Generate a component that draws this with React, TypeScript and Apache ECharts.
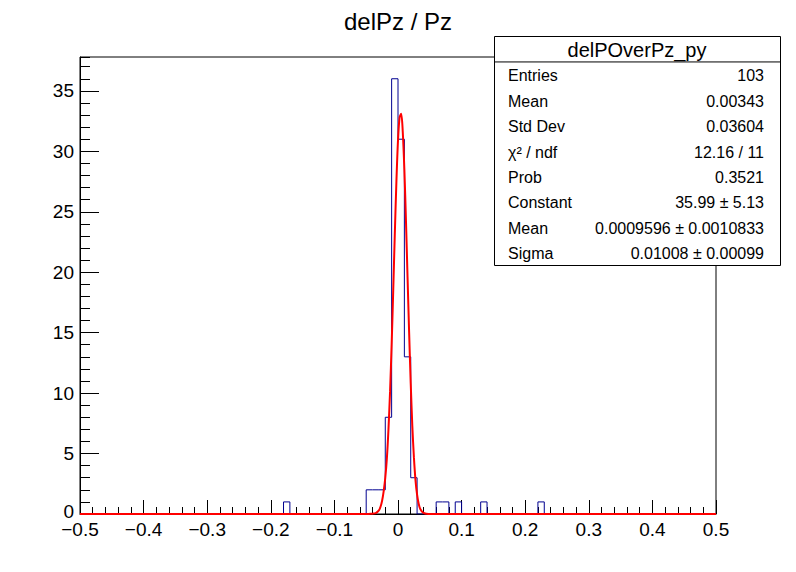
import React, { useEffect, useRef } from "react";
import * as echarts from "echarts";

const TITLE = "delPz / Pz";
const STATS_TITLE = "delPOverPz_py";
const X_MIN = -0.5;
const X_MAX = 0.5;
const BIN_WIDTH = 0.01;
const Y_MAX = 37.8;

// bin contents, 100 bins of width 0.01 from -0.5 to 0.5
const counts = [
  0, 0, 0, 0, 0, 0, 0, 0, 0, 0, // -0.50 .. -0.41
  0, 0, 0, 0, 0, 0, 0, 0, 0, 0, // -0.40 .. -0.31
  0, 0, 0, 0, 0, 0, 0, 0, 0, 0, // -0.30 .. -0.21
  0, 0, 1, 0, 0, 0, 0, 0, 0, 0, // -0.20 .. -0.11
  0, 0, 0, 0, 0, 2, 2, 2, 8, 36, // -0.10 .. -0.01
  31, 13, 3, 0, 0, 0, 1, 1, 0, 1, // 0.00 .. 0.09
  0, 0, 0, 1, 0, 0, 0, 0, 0, 0, // 0.10 .. 0.19
  0, 0, 1, 0, 0, 0, 0, 0, 0, 0, // 0.20 .. 0.29
  0, 0, 0, 0, 0, 0, 0, 0, 0, 0, // 0.30 .. 0.39
  0, 0, 0, 0, 0, 0, 0, 0, 0, 0, // 0.40 .. 0.49
];

// gaussian fit curve
const fitX = [
  -0.5, -0.05, -0.045, -0.04, -0.035, -0.03, -0.0275, -0.025, -0.0225, -0.02, -0.0175, -0.015, -0.0125,
  -0.01, -0.0075, -0.005, -0.0025, 0, 0.0025, 0.005, 0.0075, 0.01, 0.0125, 0.015, 0.0175, 0.02,
  0.0225, 0.025, 0.0275, 0.03, 0.0325, 0.035, 0.04, 0.045, 0.05, 0.5,
];
const fitY = [
  0, 0, 0.01, 0.03, 0.08, 0.3, 0.6, 1.1, 1.9, 3.0, 4.6, 7.0, 10.1,
  14.0, 18.5, 23.2, 27.5, 30.9, 32.8, 33.1, 31.6, 28.5, 24.3, 19.6, 15.0, 10.8,
  7.3, 4.7, 2.8, 1.6, 0.85, 0.42, 0.09, 0.02, 0, 0,
];

const statLabels = ["Entries", "Mean", "Std Dev", "\u03C7\u00B2 / ndf", "Prob", "Constant", "Mean", "Sigma"];
const statValues = ["103", "0.00343", "0.03604", "12.16 / 11", "0.3521", "35.99 \u00B1 5.13", "0.0009596 \u00B1 0.0010833", "0.01008 \u00B1 0.00099"];

const FONT = '"Liberation Sans", Arial, Helvetica, sans-serif';

export default function App() {
  const ref = useRef<HTMLDivElement>(null);
  useEffect(() => {
    if (!ref.current) return;
    const chart = echarts.init(ref.current, null, { renderer: "svg" });

    const histData: number[][] = counts.map((c, i) => [X_MIN + i * BIN_WIDTH, c]);
    histData.push([X_MAX, counts[counts.length - 1]]);
    const fitData = fitX.map((x, i) => [x, fitY[i]]);

    const boxL = 494, boxT = 36, boxW = 286, boxH = 229;
    const rowH = boxH / (statLabels.length + 1);
    const graphics: any[] = [
      {
        type: "text",
        x: 398,
        y: 21,
        z: 100,
        style: { text: TITLE, font: `24px ${FONT}`, fill: "#000", align: "center", verticalAlign: "middle", textAlign: "center", textVerticalAlign: "middle" },
      },
      {
        type: "rect",
        z: 100,
        shape: { x: boxL + 0.5, y: boxT + 0.5, width: boxW, height: boxH },
        style: { fill: "#fff", stroke: "#000", lineWidth: 1 },
      },
      {
        type: "line",
        z: 101,
        shape: { x1: boxL + 0.5, y1: boxT + rowH + 0.5, x2: boxL + boxW + 0.5, y2: boxT + rowH + 0.5 },
        style: { stroke: "#000", lineWidth: 1 },
      },
      {
        type: "text",
        x: boxL + boxW / 2,
        y: boxT + rowH / 2 + 1,
        z: 102,
        style: { text: STATS_TITLE, font: `20px ${FONT}`, fill: "#000", align: "center", verticalAlign: "middle", textAlign: "center", textVerticalAlign: "middle" },
      },
    ];
    statLabels.forEach((lab, i) => {
      const cy = boxT + rowH * (i + 1.5) + 1.5;
      graphics.push({
        type: "text",
        x: boxL + 14,
        y: cy,
        z: 102,
        style: { text: lab, font: `16px ${FONT}`, fill: "#000", align: "left", verticalAlign: "middle", textAlign: "left", textVerticalAlign: "middle" },
      });
      graphics.push({
        type: "text",
        x: boxL + boxW - 16,
        y: cy,
        z: 102,
        style: { text: statValues[i], font: `16px ${FONT}`, fill: "#000", align: "right", verticalAlign: "middle", textAlign: "right", textVerticalAlign: "middle" },
      });
    });

    const fmtX = (v: number) => {
      const r = Math.round(v * 10) / 10;
      if (r === 0) return "0";
      return r.toFixed(1).replace("-", "\u2212");
    };
    const fmtY = (v: number) => (v === 0 ? "{z|0}" : String(v));

    chart.setOption({
      animation: false,
      backgroundColor: "#fff",
      grid: { left: 80, right: 80, top: 57, bottom: 58, show: true, borderColor: "#000", borderWidth: 1, backgroundColor: "transparent" },
      xAxis: {
        type: "value",
        min: X_MIN,
        max: X_MAX,
        interval: 0.1,
        axisLine: { show: true, onZero: false, lineStyle: { color: "#000", width: 1 } },
        axisTick: { show: true, inside: true, length: 14, lineStyle: { color: "#000", width: 1 } },
        minorTick: { show: true, splitNumber: 5, length: 7, lineStyle: { color: "#000", width: 1 } },
        splitLine: { show: false },
        axisLabel: { color: "#000", fontSize: 19, fontFamily: FONT, margin: 6, formatter: fmtX, showMinLabel: true, showMaxLabel: true },
      },
      yAxis: [
        {
          type: "value",
          min: 0,
          max: Y_MAX,
          interval: 5,
          position: "left",
          axisLine: { show: true, onZero: false, lineStyle: { color: "#000", width: 1 } },
          axisTick: { show: true, inside: true, length: 19, lineStyle: { color: "#000", width: 1 } },
          splitLine: { show: false },
          axisLabel: {
            color: "#000",
            fontSize: 19,
            fontFamily: FONT,
            margin: 6,
            showMaxLabel: false,
            formatter: fmtY,
            rich: { z: { fontSize: 19, fontFamily: FONT, color: "#000", padding: [0, 0, 6, 0] } },
          },
        },
        {
          type: "value",
          min: 0,
          max: Y_MAX,
          interval: 1,
          position: "left",
          offset: 0,
          axisLine: { show: false, onZero: false },
          axisTick: { show: true, inside: true, length: 10, lineStyle: { color: "#000", width: 1 } },
          splitLine: { show: false },
          axisLabel: { show: false },
        },
      ],
      series: [
        {
          type: "line",
          name: "hist",
          data: histData,
          step: "end",
          showSymbol: false,
          symbol: "none",
          lineStyle: { color: "#000090", width: 1 },
          z: 3,
        },
        {
          type: "line",
          name: "fit",
          data: fitData,
          smooth: 0.3,
          showSymbol: false,
          symbol: "none",
          lineStyle: { color: "#ff0000", width: 2 },
          z: 4,
        },
      ],
      graphic: graphics,
    });
    return () => chart.dispose();
  }, []);
  return <div ref={ref} style={{ position: "fixed", left: 0, top: 0, width: 796, height: 572 }} />;
}
